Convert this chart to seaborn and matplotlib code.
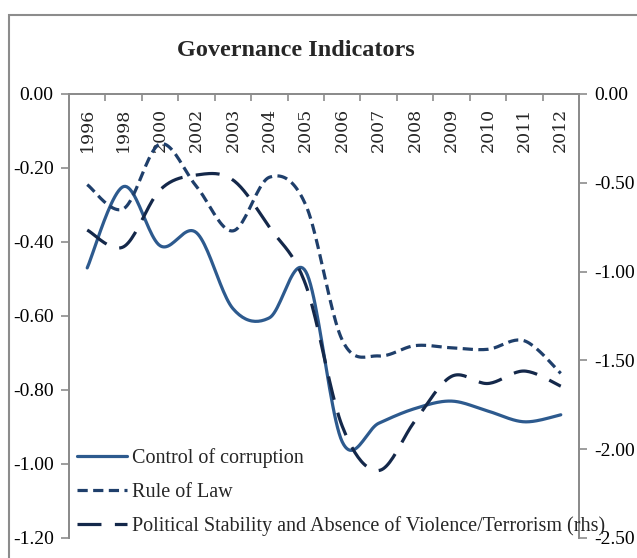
import numpy as np
import pandas as pd
import matplotlib
matplotlib.use('Agg')
import matplotlib.pyplot as plt
from matplotlib.patches import Rectangle
from matplotlib.ticker import FormatStrFormatter
import seaborn as sns

sns.set_theme(style='white')
plt.rcParams['font.family'] = ['Liberation Serif', 'DejaVu Serif']
plt.rcParams['axes.unicode_minus'] = False

# Data
years = ['1996', '1998', '2000', '2002', '2003', '2004', '2005',
         '2006', '2007', '2008', '2009', '2010', '2011', '2012']
corruption = [-0.47, -0.25, -0.41, -0.375, -0.58, -0.605, -0.48,
              -0.94, -0.89, -0.85, -0.83, -0.857, -0.886, -0.867]
rule_of_law = [-0.245, -0.31, -0.135, -0.25, -0.37, -0.225, -0.30,
               -0.665, -0.708, -0.68, -0.686, -0.69, -0.667, -0.755]
stability = [-0.766, -0.86, -0.54, -0.456, -0.484, -0.75, -1.075,
             -1.87, -2.12, -1.84, -1.59, -1.63, -1.56, -1.645]

left_ticks = [0.0, -0.2, -0.4, -0.6, -0.8, -1.0, -1.2]
right_ticks = [0.0, -0.5, -1.0, -1.5, -2.0, -2.5]

c_corr = '#2d5a8e'
c_law = '#1f3f6b'
c_stab = '#14284a'
grey = '#8c8c8c'


def smooth(vals, n=24):
    # Excel style smoothed line: cubic bezier through each point
    p = np.column_stack([np.arange(len(vals), dtype=float), np.asarray(vals, float)])
    pp = np.vstack([p[0], p, p[-1]])
    out = []
    t = np.linspace(0, 1, n)[:, None]
    for i in range(len(p) - 1):
        p0, p1, p2, p3 = pp[i], pp[i + 1], pp[i + 2], pp[i + 3]
        c1 = p1 + (p2 - p0) / 6
        c2 = p2 - (p3 - p1) / 6
        seg = ((1 - t) ** 3) * p1 + 3 * ((1 - t) ** 2) * t * c1 + 3 * (1 - t) * t ** 2 * c2 + t ** 3 * p2
        out.append(seg if i == 0 else seg[1:])
    seg = np.vstack(out)
    return pd.DataFrame({'x': seg[:, 0], 'y': seg[:, 1]})


fig = plt.figure(figsize=(6.37, 5.58), dpi=100)
ax = fig.add_axes([69 / 637, 1 - 538 / 558, 510 / 637, 444 / 558])
ax2 = ax.twinx()

lw = 2.3
d1 = smooth(corruption)
d2 = smooth(rule_of_law)
d3 = smooth(stability)
sns.lineplot(data=d1, x='x', y='y', ax=ax, color=c_corr, lw=lw, sort=False,
             label='Control of corruption', legend=False)
sns.lineplot(data=d2, x='x', y='y', ax=ax, color=c_law, lw=lw, sort=False,
             linestyle=(0, (3.2, 1.7)), label='Rule of Law', legend=False)
sns.lineplot(data=d3, x='x', y='y', ax=ax2, color=c_stab, lw=lw, sort=False,
             linestyle=(0, (7.5, 4.2)),
             label='Political Stability and Absence of Violence/Terrorism (rhs)', legend=False)

ax.set_xlim(-0.5, len(years) - 0.5)
ax.set_ylim(-1.2, 0)
ax2.set_ylim(-2.5, 0)
ax.set_xlabel('')
ax.set_ylabel('')
ax2.set_ylabel('')

# year labels hang below the top axis line
ax.set_xticks(range(len(years)))
ax.set_xticks(np.arange(-0.5, len(years), 1.0), minor=True)
ax.tick_params(axis='x', which='major', top=False, bottom=False, labeltop=True,
               labelbottom=False, length=0, pad=-10)
ax.tick_params(axis='x', which='minor', top=True, bottom=False, direction='in',
               length=5, width=1.2, color=grey)
ax.set_xticklabels(years, rotation=90, va='top', fontsize=12.5, family='DejaVu Serif')

ax.set_yticks(left_ticks)
ax.yaxis.set_major_formatter(FormatStrFormatter('%.2f'))
ax.tick_params(axis='y', left=True, direction='out', length=6, width=1.2,
               color=grey, labelsize=14, pad=5, labelcolor='black')
ax2.set_yticks(right_ticks)
ax2.yaxis.set_major_formatter(FormatStrFormatter('%.2f'))
ax2.tick_params(axis='y', right=True, direction='out', length=6, width=1.2,
                color=grey, labelsize=14, pad=5, labelcolor='black')

for a in (ax, ax2):
    a.grid(False)
    a.spines['bottom'].set_visible(False)
    for s in ('top', 'left', 'right'):
        a.spines[s].set_color(grey)
        a.spines[s].set_linewidth(1.4)
ax.patch.set_alpha(0)

handles = ax.get_lines() + ax2.get_lines()
leg = ax2.legend(handles=handles, labels=[h.get_label() for h in handles],
                 loc='lower left', bbox_to_anchor=(8 / 510, 2 / 444), frameon=False,
                 fontsize=14.5, handlelength=2.5, handletextpad=0.25,
                 labelspacing=0.72, borderpad=0, borderaxespad=0)

fig.text(296 / 637, 1 - 51 / 558, 'Governance Indicators', ha='center', va='center',
         fontsize=17.5, fontweight='bold')

fig.patches.append(Rectangle((9 / 637, -0.05), 1.2, 1.05 - 15 / 558,
                             transform=fig.transFigure, fill=False,
                             edgecolor=grey, lw=1.5))

fig.savefig('out.png', dpi=100)
